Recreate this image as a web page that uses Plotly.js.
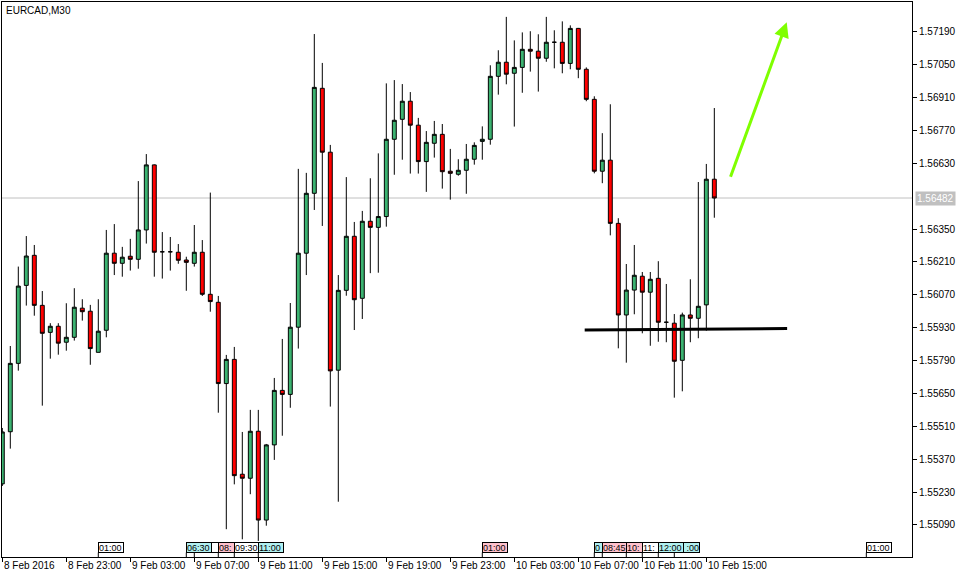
<!DOCTYPE html>
<html><head><meta charset="utf-8">
<script src="https://cdn.plot.ly/plotly-3.0.1.min.js"></script>
<style>html,body{margin:0;padding:0;background:#fff}</style>
</head><body><div id="chart" style="width:965px;height:578px"></div>
<script>
// EURCAD M30 candles, 8 Feb 2016 19:00 .. 10 Feb 2016 15:30 (index 0..89)
const openP = [1.55265,1.55487,1.55778,1.56110,1.56238,1.56025,1.55910,1.55936,1.55868,1.55889,
  1.56013,1.56000,1.55825,1.55919,1.56247,1.56204,1.56234,1.56221,1.56346,1.56623,
  1.56253,1.56253,1.56251,1.56218,1.56204,1.56251,1.56072,1.56038,1.55692,1.55795,
  1.55306,1.55289,1.55489,1.55111,1.55431,1.55663,1.55646,1.55932,1.56247,1.56502,
  1.56949,1.56677,1.55749,1.56089,1.56319,1.56055,1.56383,1.56357,1.56403,1.56732,
  1.56817,1.56894,1.56792,1.56637,1.56715,1.56753,1.56596,1.56583,1.56600,1.56647,
  1.56723,1.56732,1.57000,1.57060,1.57013,1.57038,1.57115,1.57107,1.57077,1.57145,
  1.57145,1.57055,1.57204,1.57030,1.56902,1.56596,1.56643,1.56374,1.55984,1.56090,
  1.56149,1.56081,1.56140,1.55953,1.55949,1.55791,1.55984,1.55970,1.56027,1.56562];
const highP = [1.55503,1.55852,1.56190,1.56320,1.56282,1.56086,1.55949,1.55949,1.56034,1.56098,
  1.56051,1.56027,1.56051,1.56346,1.56371,1.56274,1.56308,1.56554,1.56669,1.56625,
  1.56337,1.56316,1.56286,1.56232,1.56367,1.56303,1.56505,1.56065,1.55814,1.55848,
  1.55486,1.55580,1.55580,1.55435,1.55716,1.55882,1.56035,1.56606,1.56589,1.57180,
  1.57057,1.56708,1.56154,1.56571,1.56380,1.56427,1.56566,1.56672,1.56970,1.56984,
  1.56967,1.56933,1.56823,1.56767,1.56810,1.56797,1.56691,1.56647,1.56712,1.56719,
  1.56787,1.57047,1.57111,1.57253,1.57153,1.57187,1.57192,1.57179,1.57253,1.57196,
  1.57234,1.57217,1.57206,1.57038,1.56915,1.56758,1.56881,1.56396,1.56201,1.56282,
  1.56167,1.56167,1.56213,1.56116,1.55988,1.55994,1.56136,1.56550,1.56627,1.56865];
const lowP = [1.55256,1.55415,1.55747,1.56024,1.55981,1.55598,1.55798,1.55815,1.55832,1.55875,
  1.55960,1.55772,1.55825,1.55889,1.56154,1.56147,1.56173,1.56181,1.56288,1.56147,
  1.56139,1.56173,1.56202,1.56087,1.56190,1.56065,1.55998,1.55568,1.55072,1.55263,
  1.55029,1.55221,1.55022,1.55087,1.55367,1.55470,1.55589,1.55841,1.56154,1.56431,
  1.56363,1.55594,1.55189,1.56066,1.55920,1.55967,1.56162,1.56164,1.56360,1.56581,
  1.56645,1.56586,1.56586,1.56508,1.56654,1.56522,1.56475,1.56577,1.56500,1.56624,
  1.56645,1.56709,1.56922,1.56966,1.56786,1.56930,1.57020,1.56935,1.57062,1.57034,
  1.57013,1.57030,1.56992,1.56894,1.56587,1.56545,1.56323,1.55842,1.55781,1.55987,
  1.55906,1.55853,1.55870,1.55868,1.55632,1.55659,1.55868,1.55885,1.55917,1.56398];
const closeP = [1.55486,1.55778,1.56107,1.56235,1.56025,1.55906,1.55936,1.55864,1.55889,1.56017,
  1.55998,1.55841,1.55915,1.56247,1.56204,1.56230,1.56221,1.56346,1.56623,1.56251,
  1.56253,1.56253,1.56217,1.56208,1.56251,1.56072,1.56041,1.55692,1.55795,1.55300,
  1.55289,1.55489,1.55111,1.55431,1.55663,1.55646,1.55932,1.56247,1.56502,1.56953,
  1.56677,1.55746,1.56089,1.56319,1.56049,1.56383,1.56357,1.56403,1.56732,1.56813,
  1.56894,1.56792,1.56637,1.56719,1.56753,1.56594,1.56587,1.56600,1.56647,1.56706,
  1.56732,1.57000,1.57060,1.57009,1.57038,1.57115,1.57107,1.57077,1.57145,1.57145,
  1.57055,1.57204,1.57030,1.56902,1.56596,1.56643,1.56374,1.55984,1.56090,1.56153,
  1.56081,1.56136,1.55953,1.55953,1.55787,1.55984,1.55970,1.56021,1.56562,1.56482];

const xTickIdx = [0,8,16,24,32,40,48,56,64,72,80,88];
const xTickText = ['8 Feb 2016','8 Feb 23:00','9 Feb 03:00','9 Feb 07:00','9 Feb 11:00','9 Feb 15:00',
  '9 Feb 19:00','9 Feb 23:00','10 Feb 03:00','10 Feb 07:00','10 Feb 11:00','10 Feb 15:00'];
const yTickVals = [1.57190,1.57050,1.56910,1.56770,1.56630,1.56350,1.56210,1.56070,
  1.55930,1.55790,1.55650,1.55510,1.55370,1.55230,1.55090];
const lastPrice = 1.56482;

// calendar events (drawn in this order; later ones cover earlier ones); text = visible part
const eventIdx   = [12, 24, 23, 27, 29, 32, 60, 74, 75, 78, 80, 84, 82, 108];
const eventText  = ['01:00',' ','06:30','08:','09:30','11:00','01:00','0','08:45','10:','11:',':00','12:00','01:00'];
const eventAlign = ['left','left','left','left','left','left','left','left','left','left','left','right','left','left'];
const eventKind  = ['w','w','c','p','w','c','p','c','p','p','w','c','c','w'];

// hand-drawn objects
const supportX = [72.8, 98.1];
const supportY = [1.55920, 1.55926];
const arrowTail = [90.96, 1.56566];
const arrowHead = [98.05, 1.57230];

const FONT = 'Liberation Sans, Arial, sans-serif';
const kindColor = {w:'#FFFFFF', c:'#B0F0F0', p:'#FFC0CB'};
const idx = openP.map((_, i) => i);

const trace = {
  type: 'candlestick', x: idx, open: openP, high: highP, low: lowP, close: closeP,
  increasing: {line: {color: '#000000', width: 1}, fillcolor: '#3CB371'},
  decreasing: {line: {color: '#000000', width: 1}, fillcolor: '#FF0000'},
  whiskerwidth: 0, hoverinfo: 'skip', showlegend: false
};

const annotations = [];
xTickIdx.forEach((k, i) => annotations.push({
  x: k, xref: 'x', xanchor: 'left', xshift: 1,
  y: -0.0162, yref: 'paper', yanchor: 'middle',
  text: xTickText[i], showarrow: false, borderpad: 0,
  font: {family: FONT, size: 10, color: '#000'}
}));
eventIdx.forEach((k, i) => annotations.push({
  x: k, xref: 'x', xanchor: 'left',
  y: 0.0177, yref: 'paper', yanchor: 'middle',
  text: eventText[i], align: eventAlign[i], showarrow: false, width: 24, height: 9,
  bgcolor: kindColor[eventKind[i]], bordercolor: '#000', borderwidth: 1, borderpad: 0,
  font: {family: FONT, size: 9, color: '#000'}
}));
annotations.push({
  x: 1, xref: 'paper', xanchor: 'left', xshift: 3,
  y: lastPrice, yref: 'y', yanchor: 'middle',
  text: lastPrice.toFixed(5), showarrow: false, bgcolor: '#C0C0C0', borderpad: 1,
  font: {family: FONT, size: 10, color: '#FFFFFF'}
});
annotations.push({
  x: arrowHead[0], y: arrowHead[1], xref: 'x', yref: 'y',
  ax: arrowTail[0], ay: arrowTail[1], axref: 'x', ayref: 'y',
  text: '', showarrow: true, arrowhead: 2, arrowsize: 1, arrowwidth: 3,
  arrowcolor: '#7FFF00', standoff: 0, startstandoff: 0
});

const shapes = [
  {type: 'line', xref: 'paper', x0: 0, x1: 1, yref: 'y', y0: lastPrice, y1: lastPrice,
   line: {color: '#C0C0C0', width: 1}, layer: 'below'},
  {type: 'line', xref: 'x', x0: supportX[0], x1: supportX[1], yref: 'y', y0: supportY[0], y1: supportY[1],
   line: {color: '#000000', width: 3}, layer: 'above'}
];
eventIdx.forEach(k => shapes.push({
  type: 'line', xref: 'x', x0: k, x1: k, yref: 'paper', y0: 0, y1: 0.008,
  line: {color: '#000', width: 1}, layer: 'above'
}));

const layout = {
  width: 965, height: 578,
  margin: {l: 2, r: 53, t: 2, b: 21, pad: 0},
  paper_bgcolor: '#FFFFFF', plot_bgcolor: '#FFFFFF',
  font: {family: FONT, size: 10, color: '#000'},
  showlegend: false,
  boxgap: 0.3, boxgroupgap: 0.3,
  title: {text: 'EURCAD,M30', xref: 'container', yref: 'container',
          x: 6/965, xanchor: 'left', y: 1 - 10/578, yanchor: 'middle',
          font: {family: FONT, size: 10, color: '#000'}},
  xaxis: {type: 'linear', range: [-0.0375, 113.71], tickvals: xTickIdx, showticklabels: false,
          ticks: 'outside', ticklen: 4, tickcolor: '#000', tickwidth: 1,
          showgrid: false, zeroline: false, showline: true, mirror: true,
          linecolor: '#000', linewidth: 1, rangeslider: {visible: false}, fixedrange: true},
  yaxis: {side: 'right', range: [1.549537, 1.573164], tickvals: yTickVals,
          ticktext: yTickVals.map(v => v.toFixed(5)),
          ticks: 'outside', ticklen: 4, tickcolor: '#000', tickwidth: 1,
          tickfont: {family: FONT, size: 10, color: '#000'},
          showgrid: false, zeroline: false, showline: true, mirror: true,
          linecolor: '#000', linewidth: 1, fixedrange: true},
  annotations: annotations,
  shapes: shapes
};

Plotly.newPlot('chart', [trace], layout, {staticPlot: true, displayModeBar: false});
</script>
</body></html>
